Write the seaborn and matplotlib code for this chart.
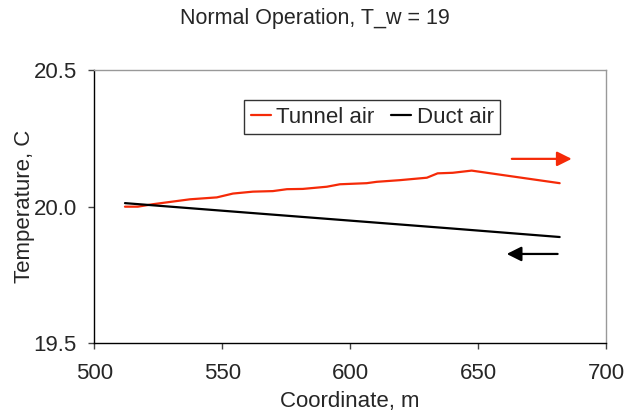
import matplotlib
matplotlib.use("Agg")
import matplotlib.pyplot as plt
import numpy as np
import pandas as pd
import seaborn as sns

RED = "#f52a08"
BLACK = "#000000"

# Tunnel air
tunnel_x = [512.0, 517.0, 522.9, 537.4, 547.9, 554.2, 562.0, 569.8, 575.3, 581.5,
            590.9, 596.0, 606.5, 610.4, 619.4, 630.0, 634.2, 640.1, 647.5, 681.9]
tunnel_t = [20.000, 20.000, 20.009, 20.027, 20.034, 20.048, 20.055, 20.057, 20.064, 20.065,
            20.073, 20.082, 20.086, 20.091, 20.097, 20.106, 20.122, 20.124, 20.132, 20.086]

# Duct air
duct_x = [512.0, 560.0, 600.0, 640.0, 681.9]
duct_t = [20.013, 19.978, 19.949, 19.920, 19.889]

sns.set_style("white")
plt.rcParams["font.family"] = ["Liberation Sans", "DejaVu Sans"]
FS = 16

df = pd.concat([
    pd.DataFrame({"x": tunnel_x, "t": tunnel_t, "series": "Tunnel air"}),
    pd.DataFrame({"x": duct_x, "t": duct_t, "series": "Duct air"}),
])

fig = plt.figure(figsize=(6.26, 4.12), dpi=100)
ax = fig.add_axes([0.1506, 0.1667, 0.8174, 0.6633])

sns.lineplot(data=df, x="x", y="t", hue="series", palette={"Tunnel air": RED, "Duct air": BLACK},
             linewidth=1.6, sort=False, estimator=None, ax=ax)

# direction arrows
ax.annotate("", xy=(686.6, 20.175), xytext=(663.2, 20.175),
            arrowprops=dict(arrowstyle="-|>", color=RED, lw=1.6, mutation_scale=22,
                            shrinkA=0, shrinkB=0))
ax.annotate("", xy=(661.2, 19.827), xytext=(681.1, 19.827),
            arrowprops=dict(arrowstyle="-|>", color=BLACK, lw=1.6, mutation_scale=22,
                            shrinkA=0, shrinkB=0))

ax.set_xlim(500, 700)
ax.set_ylim(19.5, 20.5)
ax.set_xticks([500, 550, 600, 650, 700])
ax.set_yticks([19.5, 20.0, 20.5])
ax.set_yticklabels(["19.5", "20.0", "20.5"])
ax.tick_params(axis="both", direction="out", length=4.5, width=1, labelsize=FS,
               bottom=True, left=True, color="#444444")
ax.tick_params(axis="y", pad=8)
ax.tick_params(axis="x", pad=10)
for s in ["top", "right"]:
    ax.spines[s].set_color("#999999")
for s in ["left", "bottom"]:
    ax.spines[s].set_color("black")
for s in ax.spines.values():
    s.set_linewidth(1)

ax.set_xlabel("Coordinate, m", fontsize=FS, labelpad=5)
ax.set_ylabel("Temperature, C", fontsize=FS, labelpad=-1)

leg = ax.legend(loc="upper left", bbox_to_anchor=(0.2926, 0.89), ncol=2, fontsize=FS,
                frameon=True, fancybox=False, handlelength=0.9, handletextpad=0.25,
                columnspacing=0.75, borderpad=0.3, borderaxespad=0)
leg.get_frame().set_edgecolor("black")
leg.get_frame().set_linewidth(1)

fig.text(0.503, 0.954, "Normal Operation, T_w = 19", ha="center", va="center", fontsize=15.5)

fig.savefig("out.png", dpi=100)
